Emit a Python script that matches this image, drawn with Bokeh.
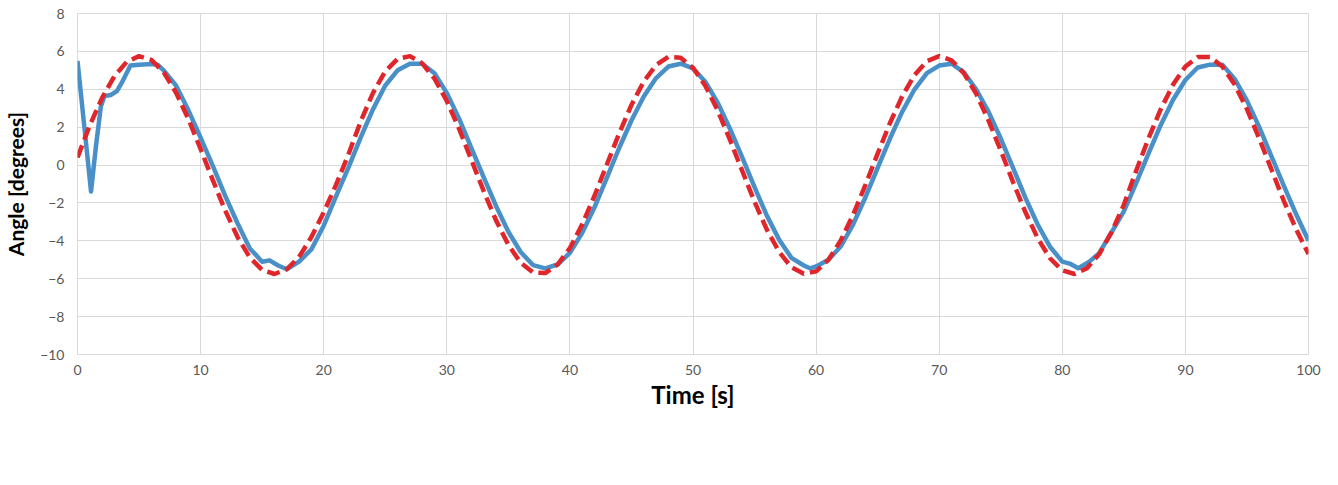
from bokeh.plotting import figure
from bokeh.models import Legend, LegendItem, FixedTicker, Range1d
from bokeh.embed import file_html
from bokeh.resources import INLINE

# Reference values (degrees) sampled each second
ref_t = list(range(0, 101))
ref_vals = [0.4, 2.1, 3.55, 4.7, 5.45, 5.75, 5.55, 4.9, 3.83, 2.44,
            0.85, -0.81, -2.40, -3.80, -4.88, -5.54, -5.75, -5.5, -4.85, -3.8,
            -2.5, -1.05, 0.55, 2.3, 3.8, 4.95, 5.6, 5.75, 5.37, 4.56,
            3.38, 1.91, 0.27, -1.38, -2.92, -4.21, -5.16, -5.67, -5.70, -5.25,
            -4.38, -3.13, -1.62, 0.02, 1.67, 3.17, 4.41, 5.28, 5.71, 5.66,
            5.14, 4.19, 2.89, 1.34, -0.31, -1.94, -3.41, -4.59, -5.40, -5.74,
            -5.61, -5.00, -3.98, -2.63, -1.06, 0.60, 2.22, 3.64, 4.76, 5.48,
            5.75, 5.53, 4.85, 3.77, 2.36, 0.77, -0.90, -2.48, -3.86, -4.92,
            -5.56, -5.75, -5.45, -4.70, -3.54, -2.10, -0.30, 1.40, 2.95, 4.25,
            5.20, 5.70, 5.70, 5.20, 4.25, 2.95, 1.40, -0.25, -1.90, -3.40,
            -4.70]

# Measured values (degrees)
meas_t = [0, 1.1, 1.5, 1.9, 2.2, 2.7, 3.2, 3.6, 4.3, 5, 6, 6.5, 7, 8, 9,
          10, 11, 12, 13, 14, 15, 15.6, 16.3, 17, 18, 19,
          20, 21, 22, 23, 24, 25, 26, 27, 28, 29,
          30, 31, 32, 33, 34, 35, 36, 37, 38, 39,
          40, 41, 42, 43, 44, 45, 46, 47, 48, 49,
          50, 51, 52, 53, 54, 55, 56, 57, 58, 59, 59.5,
          60, 61, 62, 63, 64, 65, 66, 67, 68, 69,
          70, 71, 72, 73, 74, 75, 76, 77, 78, 79,
          80, 80.6, 81.3, 82.2, 83, 84, 85, 86, 87, 88, 89,
          90, 91, 92, 93, 94, 95, 96, 97, 98, 99, 100]
meas_vals = [5.5, -1.4, 1.0, 3.1, 3.65, 3.7, 3.9, 4.35, 5.25, 5.3, 5.33, 5.3, 5.0, 4.2, 2.9,
             1.45, -0.06, -1.63, -3.07, -4.4, -5.1, -5.03, -5.3, -5.5, -5.1, -4.45,
             -3.2, -1.65, -0.15, 1.45, 2.94, 4.2, 5.0, 5.35, 5.35, 4.85,
             3.8, 2.45, 0.9, -0.65, -2.16, -3.52, -4.59, -5.28, -5.45, -5.25,
             -4.63, -3.58, -2.23, -0.68, 0.9, 2.35, 3.62, 4.59, 5.2, 5.35,
             5.1, 4.4, 3.3, 1.92, 0.41, -1.17, -2.67, -3.94, -4.9, -5.3, -5.45,
             -5.35, -5.0, -4.3, -3.14, -1.71, -0.15, 1.4, 2.82, 4.0, 4.85,
             5.25, 5.35, 4.9, 4.0, 2.82, 1.4, -0.15, -1.72, -3.14, -4.31,
             -5.1, -5.2, -5.45, -5.1, -4.65, -3.55, -2.45, -0.95, 0.6, 2.12, 3.45,
             4.49, 5.15, 5.3, 5.3, 4.55, 3.4, 2.0, 0.45, -1.1, -2.6, -4.0]

x_ticks = [0, 10, 20, 30, 40, 50, 60, 70, 80, 90, 100]
y_ticks = [-10, -8, -6, -4, -2, 0, 2, 4, 6, 8]

FONT = "Lato"
GRID = "#d9d9d9"

p = figure(frame_width=1231, frame_height=341, output_backend="svg", toolbar_location=None,
           x_range=Range1d(0, 100), y_range=Range1d(-10, 8),
           min_border_left=77, min_border_right=22, min_border_top=13,
           min_border_bottom=0)
p.outline_line_color = GRID
p.background_fill_color = "white"
p.border_fill_color = "white"

p.xaxis.ticker = FixedTicker(ticks=x_ticks)
p.yaxis.ticker = FixedTicker(ticks=y_ticks)
for ax in (p.xaxis, p.yaxis):
    ax.axis_line_color = None
    ax.major_tick_line_color = None
    ax.minor_tick_line_color = None
    ax.major_tick_out = 0
    ax.major_tick_in = 0
    ax.minor_tick_out = 0
    ax.major_label_text_font = FONT
    ax.major_label_text_font_size = "14px"
    ax.major_label_text_color = "#595959"
    ax.axis_label_text_font = FONT
    ax.axis_label_text_font_style = "bold"
    ax.axis_label_text_color = "#000000"
p.xaxis.axis_label = "Time [s]"
p.yaxis.axis_label = "Angle [degrees]"
p.xaxis.axis_label_text_font_size = "24px"
p.yaxis.axis_label_text_font_size = "21px"
p.xaxis.major_label_standoff = 10
p.yaxis.major_label_standoff = 13
p.xaxis.axis_label_standoff = 2
p.yaxis.axis_label_standoff = 9
p.xgrid.grid_line_color = GRID
p.ygrid.grid_line_color = GRID
p.xgrid.ticker = FixedTicker(ticks=x_ticks)
p.ygrid.ticker = FixedTicker(ticks=y_ticks)

blue = p.line(meas_t, meas_vals, line_color="#4a90c8", line_width=4.5, line_join="round")
red = p.line(ref_t, ref_vals, line_color="#e0262b", line_width=4.5, line_dash="13 6")

legend = Legend(items=[LegendItem(label="Reference Values in degrees", renderers=[red]),
                       LegendItem(label="Measured Values in degrees", renderers=[blue])],
                orientation="horizontal", location="top_center",
                glyph_width=54, glyph_height=22, label_standoff=2, spacing=55,
                padding=0, margin=0, border_line_color=None,
                background_fill_alpha=0,
                label_text_font=FONT, label_text_font_size="22px",
                label_text_color="#262626")
p.add_layout(legend, "below")

open("out.html", "w").write(file_html(p, INLINE))
